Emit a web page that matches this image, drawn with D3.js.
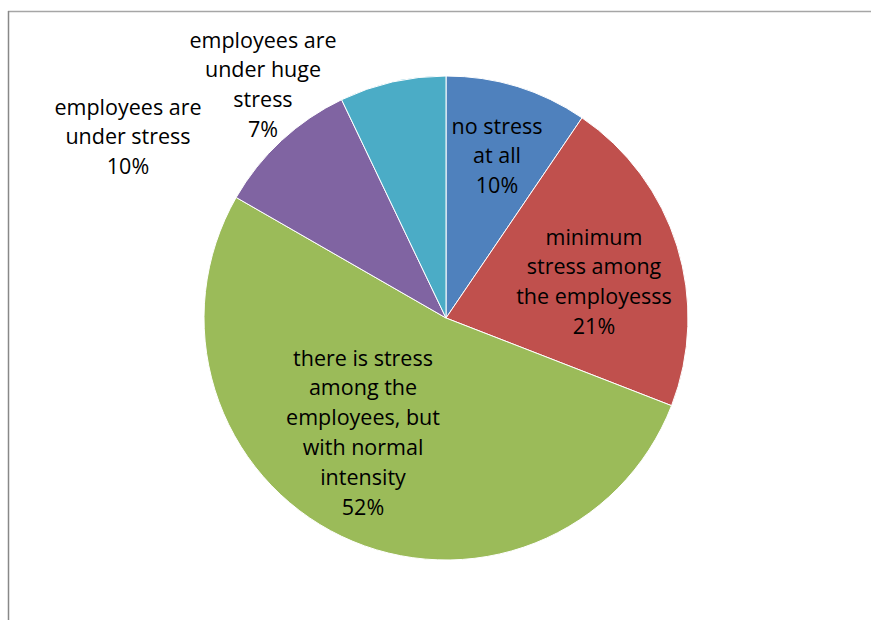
<!DOCTYPE html>
<html>
<head>
<meta charset="utf-8">
<script src="https://cdn.jsdelivr.net/npm/d3@7"></script>
<style>
  body { margin: 0; background: #fff; }
  .lbl { font-family: "Open Sans", "Noto Sans", sans-serif; font-size: 21.5px; fill: #000; }
</style>
</head>
<body>
<div class="chart"></div>
<script>
const categories = [
  ['no stress', 'at all'],
  ['minimum', 'stress among', 'the employesss'],
  ['there is stress', 'among the', 'employees, but', 'with normal', 'intensity'],
  ['employees are', 'under stress'],
  ['employees are', 'under huge', 'stress']
];
const values = [9.5, 21.4, 52.4, 9.6, 7.1];
const percentLabels = ['10%', '21%', '52%', '10%', '7%'];
const colors = ['#4f81bd', '#c0504d', '#9bbb59', '#8064a2', '#4bacc6'];

// label anchor (centre of first line) per slice
const labelPos = [[497, 126], [594, 237], [363, 358], [128, 107], [263, 40]];

window.onload = () => {
  const width = 871, height = 620;
  const cx = 446, cy = 318, r = 242;

  const svg = d3.select('.chart').append('svg')
    .attr('width', width).attr('height', height);

  // frame (only top and left edges visible)
  svg.append('line').attr('x1', 8).attr('y1', 11.5).attr('x2', width).attr('y2', 11.5)
    .attr('stroke', '#a6a6a6').attr('stroke-width', 1.5);
  svg.append('line').attr('x1', 8.5).attr('y1', 11).attr('x2', 8.5).attr('y2', height)
    .attr('stroke', '#888').attr('stroke-width', 1.5);

  const pie = d3.pie().sort(null).value(d => d);
  const arc = d3.arc().innerRadius(0).outerRadius(r);

  const g = svg.append('g').attr('transform', `translate(${cx},${cy})`);
  g.selectAll('path')
    .data(pie(values))
    .join('path')
    .attr('d', arc)
    .attr('fill', (d, i) => colors[i])
    .attr('stroke', '#fff')
    .attr('stroke-width', 1);

  const lineH = 29.8;
  categories.forEach((lines, i) => {
    const t = svg.append('text').attr('class', 'lbl')
      .attr('text-anchor', 'middle')
      .attr('x', labelPos[i][0]).attr('y', labelPos[i][1]);
    lines.concat([percentLabels[i]]).forEach((s, j) => {
      t.append('tspan')
        .attr('x', labelPos[i][0])
        .attr('y', labelPos[i][1] + j * lineH)
        .attr('dy', '0.35em')
        .text(s);
    });
  });
};
</script>
</body>
</html>
